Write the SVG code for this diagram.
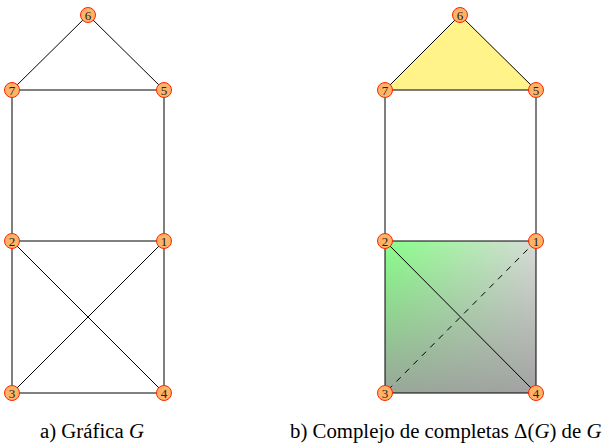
<svg xmlns="http://www.w3.org/2000/svg" width="607" height="443" viewBox="0 0 607 443">
<style>
.e{stroke:#000;stroke-width:1;fill:none}
.d{stroke:#000;stroke-width:1;fill:none;stroke-dasharray:6,6}
.n circle{fill:#ffb366;stroke:#ff2200;stroke-width:1}
.n text{font-family:'Liberation Serif','Times New Roman','DejaVu Serif',serif;font-size:13px;text-anchor:middle;fill:#222}
.cap{font-family:'Liberation Serif','Times New Roman','DejaVu Serif',serif;font-size:20.8px;fill:#000}
</style>
<defs>
<linearGradient id="gh" x1="0" y1="0" x2="1" y2="0">
<stop offset="0" stop-color="#88ff88"/>
<stop offset="1" stop-color="#d8dcd8"/>
</linearGradient>
<linearGradient id="gv" x1="0" y1="0" x2="0" y2="1">
<stop offset="0" stop-color="#999999" stop-opacity="0"/>
<stop offset="1" stop-color="#9c9c9c" stop-opacity="0.9"/>
</linearGradient>
</defs>
<g id="faces">
<polygon points="460,15 385,90 536,90" fill="#fff38a"/>
<rect x="385" y="241" width="151" height="152" fill="url(#gh)"/>
<rect x="385" y="241" width="151" height="152" fill="url(#gv)"/>
</g>
<g id="connectors">
<line class="e" x1="88" y1="15" x2="12" y2="90"/>
<line class="e" x1="88" y1="15" x2="164" y2="90"/>
<line class="e" x1="12" y1="90" x2="164" y2="90"/>
<line class="e" x1="12" y1="90" x2="12" y2="241"/>
<line class="e" x1="164" y1="90" x2="164" y2="241"/>
<line class="e" x1="12" y1="241" x2="164" y2="241"/>
<line class="e" x1="12" y1="241" x2="12" y2="393"/>
<line class="e" x1="164" y1="241" x2="164" y2="393"/>
<line class="e" x1="12" y1="393" x2="164" y2="393"/>
<line class="e" x1="12" y1="241" x2="164" y2="393"/>
<line class="e" x1="164" y1="241" x2="12" y2="393"/>
<line class="e" x1="460" y1="15" x2="385" y2="90"/>
<line class="e" x1="460" y1="15" x2="536" y2="90"/>
<line class="e" x1="385" y1="90" x2="536" y2="90"/>
<line class="e" x1="385" y1="90" x2="385" y2="241"/>
<line class="e" x1="536" y1="90" x2="536" y2="241"/>
<line class="e" x1="385" y1="241" x2="536" y2="241"/>
<line class="e" x1="385" y1="241" x2="385" y2="393"/>
<line class="e" x1="536" y1="241" x2="536" y2="393"/>
<line class="e" x1="385" y1="393" x2="536" y2="393"/>
<line class="e" x1="385" y1="241" x2="536" y2="393"/>
<line class="d" x1="536" y1="241" x2="385" y2="393"/>
</g>
<g id="a6" class="n"><circle cx="88" cy="15" r="7.5"/><text x="88" y="19.5">6</text></g>
<g id="a7" class="n"><circle cx="12" cy="90" r="7.5"/><text x="12" y="94.5">7</text></g>
<g id="a5" class="n"><circle cx="164" cy="90" r="7.5"/><text x="164" y="94.5">5</text></g>
<g id="a2" class="n"><circle cx="12" cy="241" r="7.5"/><text x="12" y="245.5">2</text></g>
<g id="a1" class="n"><circle cx="164" cy="241" r="7.5"/><text x="164" y="245.5">1</text></g>
<g id="a3" class="n"><circle cx="12" cy="393" r="7.5"/><text x="12" y="397.5">3</text></g>
<g id="a4" class="n"><circle cx="164" cy="393" r="7.5"/><text x="164" y="397.5">4</text></g>
<g id="b6" class="n"><circle cx="460" cy="15" r="7.5"/><text x="460" y="19.5">6</text></g>
<g id="b7" class="n"><circle cx="385" cy="90" r="7.5"/><text x="385" y="94.5">7</text></g>
<g id="b5" class="n"><circle cx="536" cy="90" r="7.5"/><text x="536" y="94.5">5</text></g>
<g id="b2" class="n"><circle cx="385" cy="241" r="7.5"/><text x="385" y="245.5">2</text></g>
<g id="b1" class="n"><circle cx="536" cy="241" r="7.5"/><text x="536" y="245.5">1</text></g>
<g id="b3" class="n"><circle cx="385" cy="393" r="7.5"/><text x="385" y="397.5">3</text></g>
<g id="b4" class="n"><circle cx="536" cy="393" r="7.5"/><text x="536" y="397.5">4</text></g>
<g id="captions">
<text class="cap" x="40" y="438">a) Gráfica <tspan font-style="italic">G</tspan></text>
<text class="cap" x="290" y="438">b) Complejo de completas Δ(<tspan font-style="italic">G</tspan>) de <tspan font-style="italic">G</tspan></text>
</g>
</svg>
